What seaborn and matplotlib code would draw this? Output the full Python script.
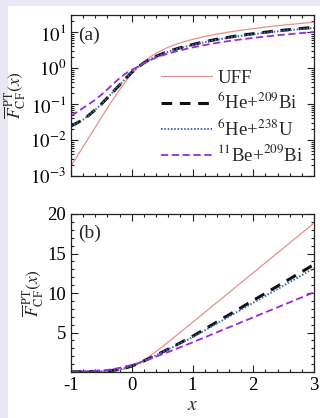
import numpy as np
import pandas as pd
import matplotlib
matplotlib.use("Agg")
import matplotlib.pyplot as plt
from matplotlib.lines import Line2D
from matplotlib.patches import Rectangle
import seaborn as sns

x_vals = [-1.0, -0.9, -0.8, -0.7, -0.6, -0.5, -0.4, -0.3, -0.2, -0.1,
          0.0, 0.1, 0.2, 0.3, 0.4, 0.5, 0.6, 0.7, 0.8, 0.9,
          1.0, 1.1, 1.2, 1.3, 1.4, 1.5, 1.6, 1.7, 1.8, 1.9,
          2.0, 2.1, 2.2, 2.3, 2.4, 2.5, 2.6, 2.7, 2.8, 2.9, 3.0]

uff = [0.00187, 0.0035, 0.00654, 0.0122, 0.0228, 0.0423, 0.0779, 0.141, 0.250, 0.428,
       0.693, 1.056, 1.507, 2.026, 2.591, 3.184, 3.793, 4.411, 5.033, 5.658,
       6.285, 6.913, 7.540, 8.168, 8.797, 9.425, 10.053, 10.681, 11.310, 11.938,
       12.566, 13.195, 13.823, 14.451, 15.080, 15.708, 16.336, 16.965, 17.593, 18.221, 18.850]

he6_bi209 = [0.0245, 0.030, 0.037, 0.050, 0.070, 0.10, 0.15, 0.225, 0.34, 0.52,
             0.76, 1.06, 1.40, 1.76, 2.13, 2.51, 2.90, 3.29, 3.69, 4.10,
             4.51, 4.96, 5.41, 5.87, 6.32, 6.78, 7.23, 7.69, 8.14, 8.60,
             9.05, 9.51, 9.96, 10.42, 10.87, 11.33, 11.78, 12.24, 12.69, 13.15, 13.60]

he6_u238 = [0.0245, 0.030, 0.037, 0.050, 0.070, 0.10, 0.15, 0.225, 0.34, 0.52,
            0.76, 1.06, 1.40, 1.76, 2.13, 2.49, 2.86, 3.24, 3.62, 4.00,
            4.39, 4.83, 5.26, 5.70, 6.14, 6.57, 7.01, 7.45, 7.88, 8.32,
            8.76, 9.19, 9.63, 10.07, 10.50, 10.94, 11.38, 11.81, 12.25, 12.69, 13.12]

be11_bi209 = [0.047, 0.060, 0.078, 0.102, 0.132, 0.182, 0.257, 0.372, 0.525, 0.71,
              0.89, 1.10, 1.38, 1.66, 1.95, 2.24, 2.53, 2.83, 3.13, 3.44,
              3.75, 4.07, 4.38, 4.70, 5.02, 5.34, 5.65, 5.97, 6.29, 6.60,
              6.92, 7.24, 7.56, 7.87, 8.19, 8.51, 8.82, 9.14, 9.46, 9.77, 10.09]

labels = ["UFF", r"$^{6}$He+$^{209}$Bi", r"$^{6}$He+$^{238}$U", r"$^{11}$Be+$^{209}$Bi"]
series = [uff, he6_bi209, he6_u238, be11_bi209]
colors = ["#E8908C", "#111111", "#3D6FA8", "#9A2BD8"]
widths = [0.9, 2.2, 1.4, 1.3]
dashes = [None, (3.5, 2.5), (0.8, 0.9), (4.0, 2.0)]

sns.set_theme(style="white")
plt.rcParams["font.family"] = ["Liberation Serif", "DejaVu Serif"]
plt.rcParams["mathtext.fontset"] = "stix"
plt.rcParams["axes.unicode_minus"] = False

fig = plt.figure(figsize=(3.2, 4.18), dpi=100)
fig.patch.set_facecolor("#E8E8F5")
fig.patches.append(Rectangle((8 / 320, 0), 1, 1 - 6 / 418, transform=fig.transFigure,
                             facecolor="white", edgecolor="none", zorder=-10))

W, H = 320.0, 418.0
ax_a = fig.add_axes([71 / W, 1 - 176 / H, (314 - 71) / W, (176 - 15) / H])
ax_b = fig.add_axes([71 / W, 1 - 372 / H, (314 - 71) / W, (372 - 214) / H])

df = pd.DataFrame({"x": x_vals})
handles = []
for ax in (ax_a, ax_b):
    for lab, ys, c, lw, d in zip(labels, series, colors, widths, dashes):
        sns.lineplot(x=df["x"], y=ys, ax=ax, color=c, linewidth=lw, legend=False)
        ln = ax.lines[-1]
        if d is not None:
            ln.set_dashes(d)

for lab, c, lw, d in zip(labels, colors, widths, dashes):
    h = Line2D([], [], color=c, linewidth=lw)
    if d is not None:
        h.set_dashes(d)
    handles.append(h)

ax_a.set_yscale("log")
ax_a.set_ylim(1e-3, 30)
ax_a.set_yticks([1e-3, 1e-2, 1e-1, 1e0, 1e1])
ax_a.set_yticklabels([r"$10^{-3}$", r"$10^{-2}$", r"$10^{-1}$", r"$10^{0}$", r"$10^{1}$"])
ax_a.yaxis.set_minor_locator(matplotlib.ticker.LogLocator(base=10, subs=np.arange(2, 10)))
ax_a.yaxis.set_minor_formatter(matplotlib.ticker.NullFormatter())

ax_b.set_ylim(0, 20)
ax_b.set_yticks([5, 10, 15, 20])
ax_b.set_yticklabels(["5", "10", "15", "20"])
ax_b.yaxis.set_minor_locator(matplotlib.ticker.MultipleLocator(1))

for ax in (ax_a, ax_b):
    ax.set_xlim(-1, 3)
    ax.set_xticks([-1, 0, 1, 2, 3])
    ax.xaxis.set_minor_locator(matplotlib.ticker.MultipleLocator(0.2))
    ax.tick_params(which="both", direction="in", top=True, right=True, bottom=True, left=True,
                   colors="#222222", labelcolor="black", labelsize=13.5, width=0.8)
    ax.tick_params(which="major", length=5)
    ax.tick_params(which="minor", length=2.5)
    for s in ax.spines.values():
        s.set_color("#222222")
        s.set_linewidth(0.9)
    ax.set_xlabel("")
    ax.set_ylabel(r"$\overline{F}^{\,\rm PT}_{\rm CF}(x)$", fontsize=12.5, labelpad=1)

ax_a.set_xticklabels([])
ax_b.set_xticklabels(["-1", "0", "1", "2", "3"])
ax_b.set_xlabel(r"$x$", fontsize=14, labelpad=2)

ax_a.text(0.03, 0.93, "(a)", transform=ax_a.transAxes, fontsize=14, va="top", ha="left")
ax_b.text(0.03, 0.93, "(b)", transform=ax_b.transAxes, fontsize=14, va="top", ha="left")

ax_a.legend(handles, labels, loc="upper left", bbox_to_anchor=(0.37, 0.66), frameon=False,
            fontsize=13.5, handlelength=2.7, handletextpad=0.3, labelspacing=0.25,
            borderpad=0.0, borderaxespad=0.0)

fig.savefig("out.png", dpi=100, facecolor=fig.get_facecolor())
